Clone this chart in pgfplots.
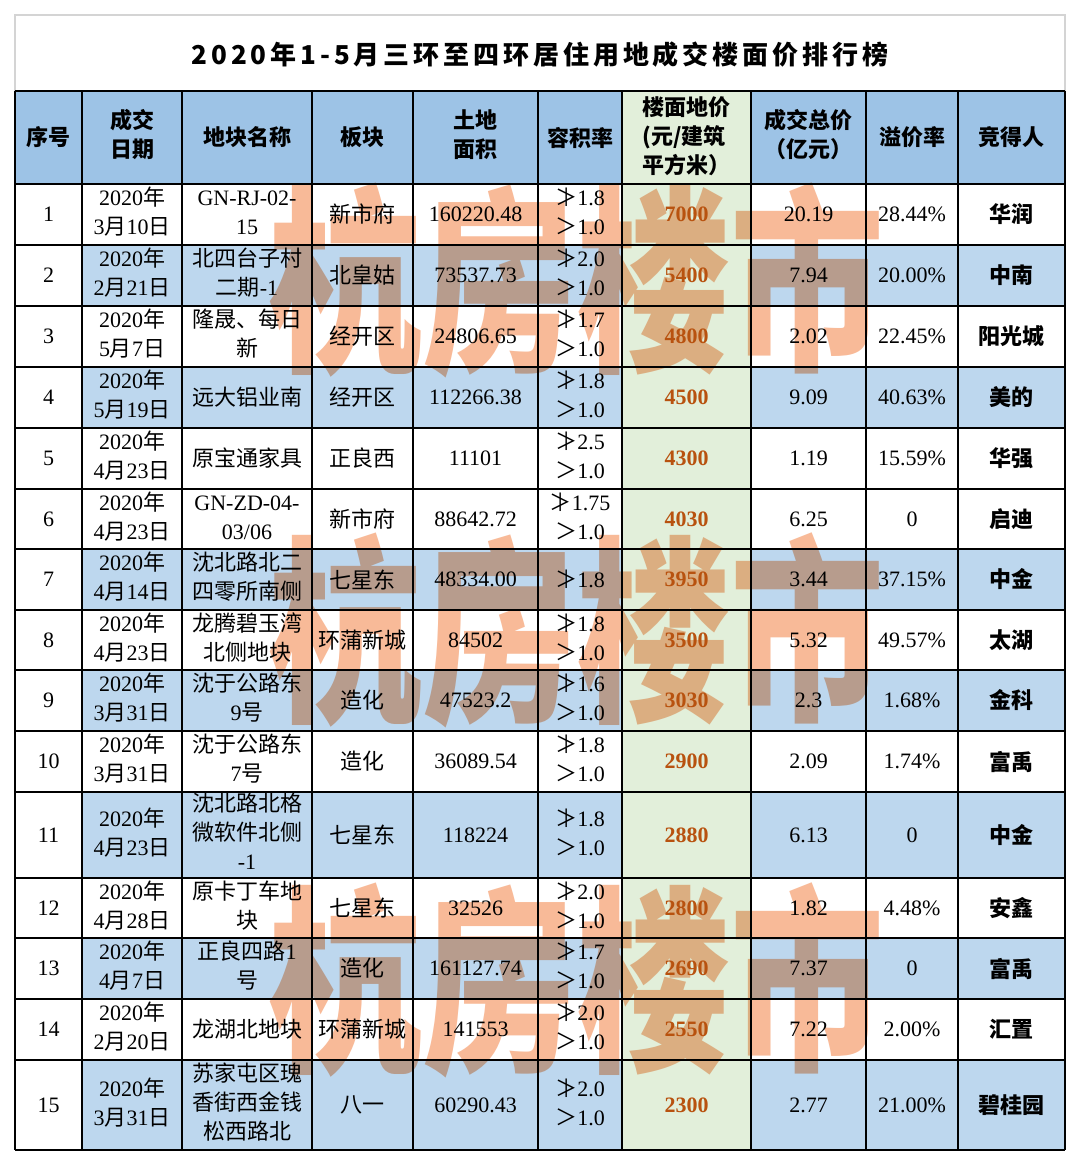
\documentclass[border=0pt]{standalone}
\usepackage{pgfplots}
\pgfplotsset{compat=1.18}
\usepackage{fontspec}
\setmainfont{Noto Sans CJK SC}
\newfontfamily\lat{Liberation Serif}
\definecolor{hdrblue}{HTML}{9DC3E6}
\definecolor{rowblue}{HTML}{BDD7EE}
\definecolor{pricegreen}{HTML}{E2EFDA}
\definecolor{pricetxt}{HTML}{B8520F}
\definecolor{wmark}{RGB}{248,186,152}
\definecolor{titlegray}{HTML}{D4D4D4}
\protected\def\stk#1{\begin{tabular}{@{}c@{}}#1\end{tabular}}
\protected\def\stkl#1{\begin{tabular}{@{}l@{}}#1\end{tabular}}
\protected\def\dt#1#2#3{\begin{tabular}{@{}c@{}}{\lat #1}年\\{\lat #2}月{\lat #3}日\end{tabular}}
\protected\def\fr#1{\begin{tabular}{@{}c@{}}≯{\lat #1}\\＞{\lat 1.0}\end{tabular}}
\pgfplotsset{
  cell/.style={draw=none, mark=none, forget plot, nodes near coords, point meta=explicit symbolic,
    every node near coord/.append style={anchor=center, inner sep=0pt, text=black,
      font=\fontsize{11}{14.5}\selectfont#1}},
}
\begin{document}
\begin{tikzpicture}
\begin{axis}[scale only axis, width=540pt, height=582.5pt,
  xmin=0, xmax=1080, ymin=0, ymax=1165, y dir=reverse, hide axis, clip=false]
% background
\fill[white] (axis cs:0,0) rectangle (axis cs:1080,1165);
% title box
\draw[titlegray, line width=0.7pt] (axis cs:15,15) rectangle (axis cs:1065,91);
% header fill
\fill[hdrblue] (axis cs:15,91) rectangle (axis cs:1065,184);
% price column
\fill[pricegreen] (axis cs:622,91) rectangle (axis cs:751,1150);
% blue rows
\newcommand\bluerow[2]{%
  \fill[rowblue] (axis cs:82,#1) rectangle (axis cs:622,#2);
  \fill[rowblue] (axis cs:751,#1) rectangle (axis cs:1065,#2);}
\bluerow{245}{306}
\bluerow{367}{428}
\bluerow{549}{610}
\bluerow{670}{731}
\bluerow{792}{878}
\bluerow{938}{999}
\bluerow{1060}{1150}
% grid
\pgfplotsinvokeforeach{91,184,245,306,367,428,489,670,731,792,878,938,1060,1150}{
  \draw[black, line width=1pt] (axis cs:15,#1) -- (axis cs:1065,#1);}
\pgfplotsinvokeforeach{549,610,999}{
  \draw[black, line width=1.4pt] (axis cs:15,#1) -- (axis cs:1065,#1);}
\pgfplotsinvokeforeach{15,82,182,312,413,538,622,751,866,958,1065}{
  \draw[black, line width=1pt] (axis cs:#1,91) -- (axis cs:#1,1150);}

% title
\node[font=\fontsize{13}{13}\selectfont\bfseries] at (axis cs:540,55)
  {\addfontfeature{LetterSpace=15}2020年1-5月三环至四环居住用地成交楼面价排行榜};

% header
\addplot[cell=\bfseries] coordinates {
 (48.5,137.5) [序号]
 (132,137.5) [\stk{成交\\日期}]
 (247,137.5) [地块名称]
 (362.5,137.5) [板块]
 (475.5,137.5) [\stk{土地\\面积}]
 (580,137.5) [容积率]
 (686.5,138.5) [\stkl{楼面地价\\(元/建筑\\平方米）}]
 (808.5,137.5) [\stk{成交总价\\（亿元）}]
 (912,137.5) [溢价率]
 (1011.5,137.5) [竞得人]
};

% index
\addplot[cell=\lat] coordinates {
 (48.5,214.5)[1] (48.5,275.5)[2] (48.5,336.5)[3] (48.5,397.5)[4] (48.5,458.5)[5]
 (48.5,519)[6] (48.5,579.5)[7] (48.5,640)[8] (48.5,700.5)[9] (48.5,761.5)[10]
 (48.5,835)[11] (48.5,908)[12] (48.5,968.5)[13] (48.5,1029.5)[14] (48.5,1105)[15]
};

% date
\addplot[cell=] coordinates {
 (132,214.5)[\dt{2020}{3}{10}] (132,275.5)[\dt{2020}{2}{21}] (132,336.5)[\dt{2020}{5}{7}]
 (132,397.5)[\dt{2020}{5}{19}] (132,458.5)[\dt{2020}{4}{23}] (132,519)[\dt{2020}{4}{23}]
 (132,579.5)[\dt{2020}{4}{14}] (132,640)[\dt{2020}{4}{23}] (132,700.5)[\dt{2020}{3}{31}]
 (132,761.5)[\dt{2020}{3}{31}] (132,835)[\dt{2020}{4}{23}] (132,908)[\dt{2020}{4}{28}]
 (132,968.5)[\dt{2020}{4}{7}] (132,1029.5)[\dt{2020}{2}{20}] (132,1105)[\dt{2020}{3}{31}]
};

% plot name
\addplot[cell=] coordinates {
 (247,214.5)[\stk{{\lat GN-RJ-02-}\\{\lat 15}}]
 (247,275.5)[\stk{北四台子村\\二期{\lat -1}}]
 (247,336.5)[\stk{隆晟、每日\\新}]
 (247,397.5)[远大铝业南]
 (247,458.5)[原宝通家具]
 (247,519)[\stk{{\lat GN-ZD-04-}\\{\lat 03/06}}]
 (247,579.5)[\stk{沈北路北二\\四零所南侧}]
 (247,640)[\stk{龙腾碧玉湾\\北侧地块}]
 (247,700.5)[\stk{沈于公路东\\{\lat 9}号}]
 (247,761.5)[\stk{沈于公路东\\{\lat 7}号}]
 (247,835)[\stk{沈北路北格\\微软件北侧\\{\lat -1}}]
 (247,908)[\stk{原卡丁车地\\块}]
 (247,968.5)[\stk{正良四路{\lat 1}\\号}]
 (247,1029.5)[龙湖北地块]
 (247,1105)[\stk{苏家屯区瑰\\香街西金钱\\松西路北}]
};

% sector
\addplot[cell=] coordinates {
 (362.5,214.5)[新市府] (362.5,275.5)[北皇姑] (362.5,336.5)[经开区] (362.5,397.5)[经开区]
 (362.5,458.5)[正良西] (362.5,519)[新市府] (362.5,579.5)[七星东] (362.5,640)[环蒲新城]
 (362.5,700.5)[造化] (362.5,761.5)[造化] (362.5,835)[七星东] (362.5,908)[七星东]
 (362.5,968.5)[造化] (362.5,1029.5)[环蒲新城] (362.5,1105)[八一]
};

% land area
\addplot[cell=\lat] coordinates {
 (475.5,214.5)[160220.48] (475.5,275.5)[73537.73] (475.5,336.5)[24806.65]
 (475.5,397.5)[112266.38] (475.5,458.5)[11101] (475.5,519)[88642.72]
 (475.5,579.5)[48334.00] (475.5,640)[84502] (475.5,700.5)[47523.2]
 (475.5,761.5)[36089.54] (475.5,835)[118224] (475.5,908)[32526]
 (475.5,968.5)[161127.74] (475.5,1029.5)[141553] (475.5,1105)[60290.43]
};

% plot ratio
\addplot[cell=] coordinates {
 (580,214.5)[\fr{1.8}] (580,275.5)[\fr{2.0}] (580,336.5)[\fr{1.7}] (580,397.5)[\fr{1.8}]
 (580,458.5)[\fr{2.5}] (580,519)[\fr{1.75}] (580,579.5)[≯{\lat 1.8}] (580,640)[\fr{1.8}]
 (580,700.5)[\fr{1.6}] (580,761.5)[\fr{1.8}] (580,835)[\fr{1.8}] (580,908)[\fr{2.0}]
 (580,968.5)[\fr{1.7}] (580,1029.5)[\fr{2.0}] (580,1105)[\fr{2.0}]
};

% floor price
\addplot[cell={\lat\bfseries}, every node near coord/.append style={text=pricetxt}] coordinates {
 (686.5,214.5)[7000] (686.5,275.5)[5400] (686.5,336.5)[4800] (686.5,397.5)[4500]
 (686.5,458.5)[4300] (686.5,519)[4030] (686.5,579.5)[3950] (686.5,640)[3500]
 (686.5,700.5)[3030] (686.5,761.5)[2900] (686.5,835)[2880] (686.5,908)[2800]
 (686.5,968.5)[2690] (686.5,1029.5)[2550] (686.5,1105)[2300]
};

% total price
\addplot[cell=\lat] coordinates {
 (808.5,214.5)[20.19] (808.5,275.5)[7.94] (808.5,336.5)[2.02] (808.5,397.5)[9.09]
 (808.5,458.5)[1.19] (808.5,519)[6.25] (808.5,579.5)[3.44] (808.5,640)[5.32]
 (808.5,700.5)[2.3] (808.5,761.5)[2.09] (808.5,835)[6.13] (808.5,908)[1.82]
 (808.5,968.5)[7.37] (808.5,1029.5)[7.22] (808.5,1105)[2.77]
};

% premium
\addplot[cell=\lat] coordinates {
 (912,214.5)[28.44\%] (912,275.5)[20.00\%] (912,336.5)[22.45\%] (912,397.5)[40.63\%]
 (912,458.5)[15.59\%] (912,519)[0] (912,579.5)[37.15\%] (912,640)[49.57\%]
 (912,700.5)[1.68\%] (912,761.5)[1.74\%] (912,835)[0] (912,908)[4.48\%]
 (912,968.5)[0] (912,1029.5)[2.00\%] (912,1105)[21.00\%]
};

% winner
\addplot[cell=\bfseries] coordinates {
 (1011.5,214.5)[华润] (1011.5,275.5)[中南] (1011.5,336.5)[阳光城] (1011.5,397.5)[美的]
 (1011.5,458.5)[华强] (1011.5,519)[启迪] (1011.5,579.5)[中金] (1011.5,640)[太湖]
 (1011.5,700.5)[金科] (1011.5,761.5)[富禹] (1011.5,835)[中金] (1011.5,908)[安鑫]
 (1011.5,968.5)[富禹] (1011.5,1029.5)[汇置] (1011.5,1105)[碧桂园]
};

% watermark
\begin{scope}[blend mode=multiply]
\node[text=wmark, font=\fontsize{77}{77}\selectfont\bfseries, inner sep=0pt, yscale=1.3] at (axis cs:576,280) {杭房楼市};
\node[text=wmark, font=\fontsize{77}{77}\selectfont\bfseries, inner sep=0pt, yscale=1.3] at (axis cs:576,630) {杭房楼市};
\node[text=wmark, font=\fontsize{77}{77}\selectfont\bfseries, inner sep=0pt, yscale=1.3] at (axis cs:576,980) {杭房楼市};
\end{scope}
\end{axis}
\end{tikzpicture}
\end{document}
